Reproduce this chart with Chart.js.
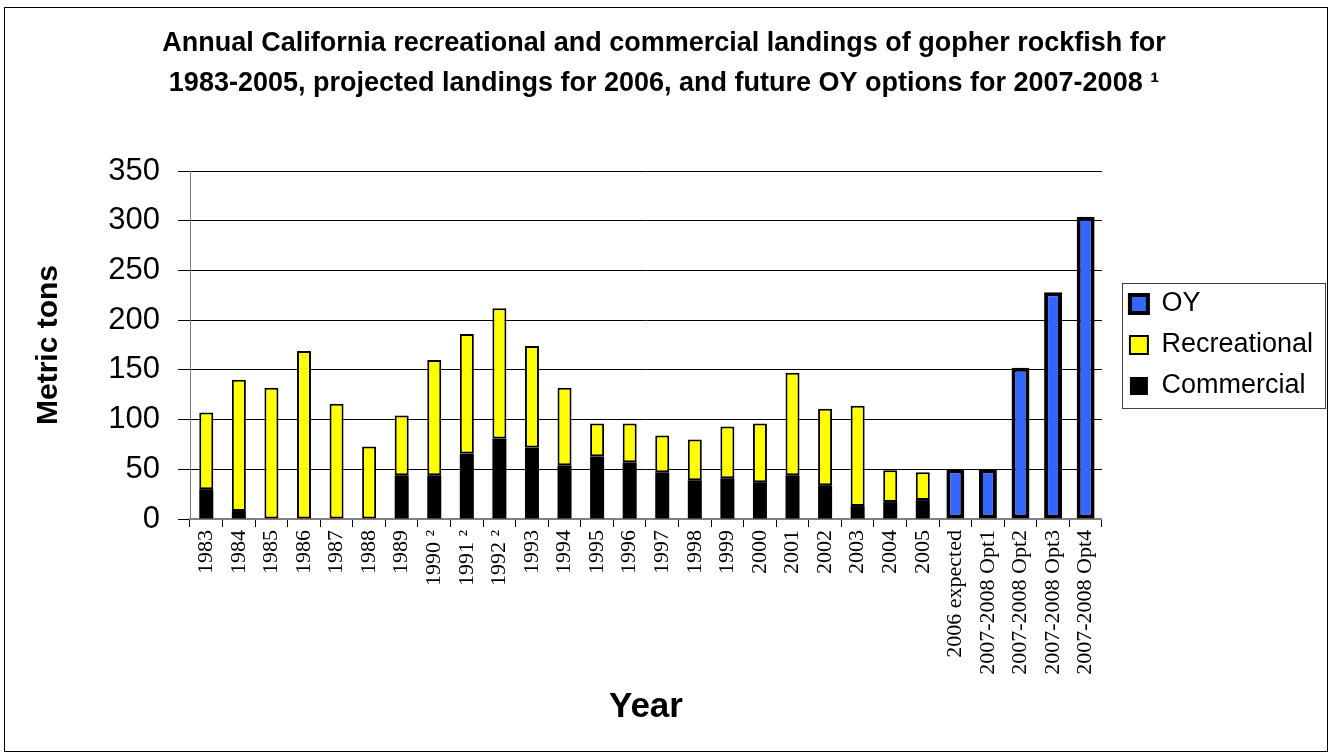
<!DOCTYPE html>
<html>
<head>
<meta charset="utf-8">
<script src="https://cdn.jsdelivr.net/npm/chart.js@4.4.1/dist/chart.umd.min.js"></script>
<style>
  html, body { margin: 0; padding: 0; background: #ffffff; }
  #wrap { width: 1329px; height: 754px; position: relative; }
</style>
</head>
<body>
<div id="wrap"><canvas id="c"></canvas></div>
<script>
// ---- data ----
const categories = ['1983','1984','1985','1986','1987','1988','1989','1990 \u00b2','1991 \u00b2','1992 \u00b2','1993','1994','1995','1996','1997','1998','1999','2000','2001','2002','2003','2004','2005','2006 expected','2007-2008 Opt1','2007-2008 Opt2','2007-2008 Opt3','2007-2008 Opt4'];
const commercial = [30, 8, 0, 0, 0, 0, 44, 44, 66, 81, 72, 54, 63, 57, 47, 39, 41, 37, 44, 34, 13, 17, 19, null, null, null, null, null];
const recreational = [77, 132, 132, 169, 116, 73, 60, 116, 120, 131, 102, 78, 33, 39, 37, 41, 52, 59, 103, 77, 101, 32, 28, null, null, null, null, null];
const oy = [null, null, null, null, null, null, null, null, null, null, null, null, null, null, null, null, null, null, null, null, null, null, null, 50, 50, 152, 228, 304];
const yTicks = [0, 50, 100, 150, 200, 250, 300, 350];
const titleLines = ['Annual California recreational and commercial landings of gopher rockfish for', '1983-2005, projected landings for 2006, and future OY options for 2007-2008 \u00b9'];

Chart.defaults.font.family = '"Liberation Sans", Arial, sans-serif';
Chart.defaults.color = '#000';

const framePlugin = {
  id: 'frame',
  afterDraw(chart) {
    const ctx = chart.ctx;
    ctx.save();
    ctx.strokeStyle = '#000';
    ctx.lineWidth = 1;
    ctx.strokeRect(4.5, 7.5, 1323, 744);
    const lg = chart.legend;
    if (lg && lg.legendHitBoxes && lg.legendHitBoxes.length) {
      const hb = lg.legendHitBoxes;
      let l = Infinity, r = -Infinity, t = Infinity, b = -Infinity;
      hb.forEach(h => { l = Math.min(l, h.left); r = Math.max(r, h.left + h.width); t = Math.min(t, h.top); b = Math.max(b, h.top + h.height); });
      ctx.strokeStyle = '#404040';
      ctx.strokeRect(Math.round(l - 8) + 0.5, Math.round(t - 8) + 0.5, Math.round(r - l + 20), Math.round(b - t + 16));
    }
    ctx.restore();
  }
};

new Chart(document.getElementById('c'), {
  type: 'bar',
  data: {
    labels: categories,
    datasets: [
      { label: 'Commercial', data: commercial, backgroundColor: '#000000', borderColor: '#000000', borderWidth: 0, barPercentage: 0.43, categoryPercentage: 1, stack: 's' },
      { label: 'Recreational', data: recreational, backgroundColor: '#FFFF00', borderColor: '#000000', borderWidth: 2, borderSkipped: false, barPercentage: 0.43, categoryPercentage: 1, stack: 's' },
      { label: 'OY', data: oy, backgroundColor: '#3366FF', borderColor: '#000000', borderWidth: 4, borderSkipped: false, barPercentage: 0.55, categoryPercentage: 1, stack: 's' }
    ]
  },
  options: {
    responsive: true,
    maintainAspectRatio: false,
    animation: false,
    layout: { padding: { left: 5, right: 6, top: 8, bottom: 2 } },
    plugins: {
      tooltip: { enabled: false },
      title: {
        display: true,
        text: titleLines,
        color: '#000',
        font: { size: 27, weight: 'bold', lineHeight: 1.463 },
        padding: { top: 16, bottom: 68 }
      },
      legend: {
        position: 'right',
        align: 'center',
        reverse: true,
        fullSize: false,
        labels: {
          boxWidth: 18,
          boxHeight: 18,
          padding: 14,
          color: '#000',
          font: { size: 27 }
        }
      }
    },
    scales: {
      x: {
        stacked: true,
        offset: true,
        grid: { display: true, drawOnChartArea: false, drawTicks: true, tickLength: 8, color: '#000', offset: true },
        border: { display: true, color: '#808080', width: 2 },
        ticks: {
          autoSkip: false, maxRotation: 90, minRotation: 90, padding: 3,
          color: '#000',
          font: { family: '"Liberation Serif", "Times New Roman", serif', size: 22 }
        },
        title: {
          display: true, text: 'Year', color: '#000',
          font: { size: 35, weight: 'bold' },
          padding: { top: 0, bottom: 24 }
        },
        afterFit(s) { s.height = 233; }
      },
      y: {
        stacked: true,
        min: 0, max: 350,
        afterBuildTicks(s) { s.ticks = yTicks.map(v => ({ value: v })); },
        grid: { color: '#000', lineWidth: 1, tickLength: 12, drawTicks: true },
        border: { display: true, color: '#808080', width: 1 },
        ticks: { stepSize: 50, padding: 18, color: '#000', font: { size: 31 } },
        title: {
          display: true, text: 'Metric tons', color: '#000',
          font: { size: 30, weight: 'bold' },
          padding: { top: 26, bottom: 0 }
        },
        afterFit(s) { s.width = 185; }
      },
      y2: {
        position: 'right',
        display: true,
        grid: { display: false },
        ticks: { display: false },
        border: { display: false },
        afterFit(s) { s.width = 14; }
      }
    }
  },
  plugins: [framePlugin]
});
</script>
</body>
</html>
